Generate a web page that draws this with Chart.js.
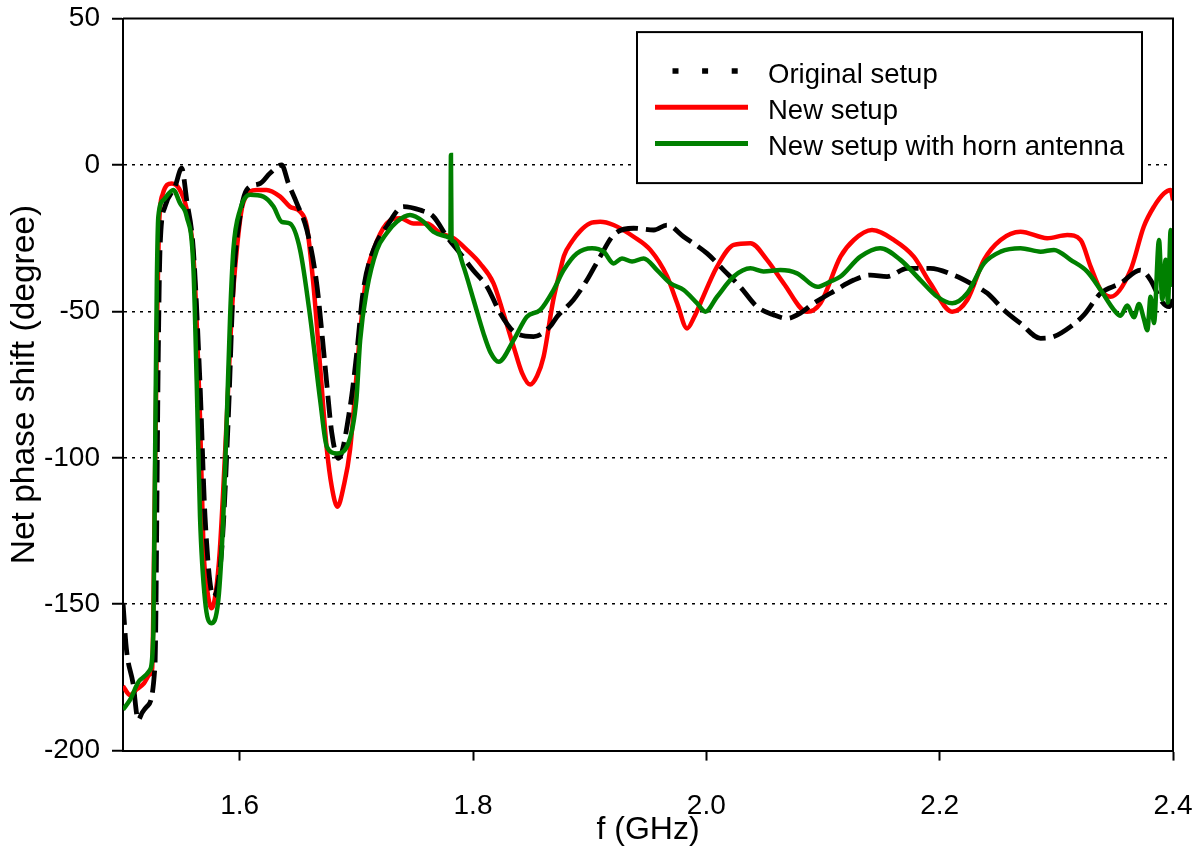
<!DOCTYPE html>
<html>
<head>
<meta charset="utf-8">
<title>Net phase shift</title>
<script src="https://cdn.jsdelivr.net/npm/chart.js@4.4.1/dist/chart.umd.min.js"></script>
<style>
  html, body { margin: 0; padding: 0; background: #fff; }
</style>
</head>
<body>
<canvas id="myChart" width="1199" height="850"></canvas>
<script>
// frequency (GHz) / net phase shift (degree)
const origF = [1.500, 1.503, 1.5086, 1.513, 1.5165, 1.5203, 1.5274, 1.5303, 1.5317, 1.536, 1.5446, 1.5503, 1.5546, 1.5603, 1.566, 1.5703, 1.5775, 1.5846, 1.5903, 1.5946, 1.6003, 1.606, 1.6175, 1.626, 1.636, 1.6418, 1.649, 1.6576, 1.666, 1.6733, 1.679, 1.6847, 1.6947, 1.700, 1.706, 1.7147, 1.726, 1.7404, 1.7547, 1.766, 1.7776, 1.789, 1.800, 1.812, 1.8233, 1.835, 1.852, 1.866, 1.872, 1.886, 1.8977, 1.909, 1.9205, 1.9377, 1.955, 1.9663, 1.9806, 2.0006, 2.0149, 2.029, 2.0435, 2.0578, 2.0692, 2.0806, 2.092, 2.1064, 2.1264, 2.1407, 2.155, 2.1722, 2.192, 2.212, 2.2265, 2.2408, 2.255, 2.2693, 2.2865, 2.298, 2.3122, 2.3237, 2.338, 2.355, 2.372, 2.3808, 2.3894, 2.3966, 2.400];
const origPhase = [-149.6, -165.6, -177, -189.5, -187, -185, -171, -63, -29, -14.2, -7.4, -1.1, -12, -29, -74.6, -120, -147.4, -131.5, -86, -40.4, -17.6, -8.5, -6.3, -2.8, 0, -6.3, -13.1, -22.2, -40.4, -68.9, -91.6, -100.2, -82.5, -65.5, -42.7, -29, -21, -14.2, -15.4, -17.6, -24.5, -30.2, -35.9, -41.6, -50.6, -56.9, -58.6, -55.2, -51.8, -46.1, -39.3, -31.3, -23.9, -21.6, -22.2, -20.5, -24.5, -30.2, -35.9, -41.6, -48.4, -51.2, -52.4, -50.6, -47.2, -43.8, -39.3, -37.6, -38.1, -35.3, -35.3, -37.6, -40.4, -43.8, -49.5, -54.1, -59.2, -58.6, -55.2, -51.2, -43.8, -40.4, -35.9, -39.3, -46.1, -48.4, -46];

const newF = [1.500, 1.506, 1.512, 1.518, 1.523, 1.525, 1.527, 1.529, 1.531, 1.534, 1.5418, 1.548, 1.5546, 1.560, 1.563, 1.566, 1.569, 1.5725, 1.576, 1.5795, 1.583, 1.589, 1.593, 1.5975, 1.603, 1.6147, 1.623, 1.6347, 1.643, 1.652, 1.6576, 1.663, 1.669, 1.6747, 1.679, 1.6838, 1.689, 1.6947, 1.7033, 1.709, 1.7147, 1.726, 1.7376, 1.749, 1.7605, 1.772, 1.7833, 1.7948, 1.806, 1.8176, 1.826, 1.8348, 1.842, 1.849, 1.855, 1.8605, 1.8688, 1.8748, 1.878, 1.885, 1.892, 1.900, 1.909, 1.9205, 1.9377, 1.952, 1.9663, 1.975, 1.9835, 1.9895, 1.9949, 2.0092, 2.0235, 2.0378, 2.052, 2.0663, 2.0864, 2.0978, 2.115, 2.1264, 2.142, 2.1607, 2.1778, 2.192, 2.2107, 2.2236, 2.238, 2.2522, 2.2693, 2.2922, 2.3094, 2.3208, 2.3294, 2.338, 2.3465, 2.3636, 2.375, 2.3837, 2.3923, 2.398, 2.400];
const newPhase = [-178, -181, -179, -177, -174, -172, -120, -60, -20, -10, -6.3, -8, -15, -29, -52, -86, -131, -146, -151.4, -146, -131.5, -86, -52, -29, -13, -8.5, -8.5, -10.8, -14.2, -16, -21, -40, -69, -97, -110, -116.7, -110, -97, -57, -37, -29, -20, -18.2, -20, -20, -23.3, -25, -29, -33.6, -40.4, -50.6, -62, -71, -75, -72, -65.5, -46.1, -36, -31, -26, -22.5, -20, -19.4, -20.5, -24.5, -29, -38, -47.2, -55.8, -52, -47.2, -34.7, -27.3, -26.7, -32.4, -40.4, -50.1, -47.2, -31.3, -25.6, -22.2, -25.6, -31.3, -40.4, -50.1, -46.1, -32.4, -25.6, -22.8, -25, -23.9, -25.6, -34.7, -42.7, -45, -35.9, -21, -14.2, -9.7, -8.5, -12];

const hornF = [1.500, 1.506, 1.5146, 1.523, 1.526, 1.5275, 1.529, 1.5303, 1.5346, 1.5431, 1.5489, 1.5546, 1.5603, 1.5632, 1.566, 1.5703, 1.5755, 1.5817, 1.586, 1.589, 1.5918, 1.5946, 1.6003, 1.6089, 1.6203, 1.629, 1.636, 1.643, 1.6518, 1.6604, 1.669, 1.6747, 1.6833, 1.6932, 1.700, 1.7033, 1.709, 1.7176, 1.726, 1.7347, 1.746, 1.7576, 1.766, 1.7776, 1.7806, 1.7811, 1.7816, 1.7833, 1.7919, 1.8005, 1.809, 1.815, 1.822, 1.8348, 1.8462, 1.8577, 1.869, 1.8777, 1.889, 1.902, 1.912, 1.9205, 1.9277, 1.9363, 1.9463, 1.9577, 1.9692, 1.9806, 1.992, 1.9992, 2.0092, 2.0235, 2.0378, 2.049, 2.0635, 2.0778, 2.095, 2.1064, 2.115, 2.132, 2.149, 2.1664, 2.1835, 2.198, 2.2107, 2.2236, 2.238, 2.2522, 2.2693, 2.2865, 2.298, 2.3122, 2.3265, 2.338, 2.3494, 2.355, 2.3608, 2.3665, 2.3708, 2.375, 2.378, 2.3808, 2.3837, 2.388, 2.3908, 2.3937, 2.3957, 2.398, 2.400];
const hornPhase = [-186, -182.7, -175.9, -172.5, -160, -100, -40, -17.6, -12, -8.5, -13.1, -17.6, -34.7, -74.6, -120, -148.6, -156.5, -148.6, -120, -86, -51.8, -29, -15.4, -10.2, -10.8, -14.2, -19.4, -20, -29, -51.8, -80.3, -96.2, -98.5, -95, -80.3, -59.8, -42.7, -29, -23.3, -19.4, -17.1, -19.4, -22.8, -24.5, -25, 3.4, -25.5, -26, -34.7, -46.1, -57.5, -64, -67.2, -59.8, -51.8, -49.5, -42.7, -35.9, -30.2, -28.4, -29.6, -33.6, -31.9, -33, -31.9, -35.9, -40.4, -42.7, -47.2, -50.1, -45, -38.1, -35.3, -36.4, -35.9, -37, -41.6, -39.8, -38.1, -31.3, -28.4, -32.4, -39.3, -45, -47.2, -43.8, -33.6, -29.6, -28.4, -29.6, -29, -32.4, -36.4, -42.7, -49.5, -51.5, -48, -52, -47.5, -52.5, -56.4, -45, -54, -25.6, -46, -32.4, -47, -22.2, -41.6];

const seriesNames = ["Original setup", "New setup", "New setup with horn antenna"];
const xTickValues = [1.6, 1.8, 2.0, 2.2, 2.4];
const yTickValues = [50, 0, -50, -100, -150, -200];
const yGridValues = [0, -50, -100, -150];

const FONT = "'Liberation Sans', Arial, sans-serif";

function toPoints(xs, ys) {
  return xs.map((x, i) => ({ x: x, y: ys[i] }));
}

// frame (top/right) + legend box inside the plot
const frameAndLegend = {
  id: "frameAndLegend",
  afterDatasetsDraw(chart) {
    const { ctx, chartArea } = chart;
    ctx.save();
    ctx.strokeStyle = "#000";
    ctx.lineWidth = 2;
    ctx.beginPath();
    ctx.moveTo(chartArea.left, chartArea.top);
    ctx.lineTo(chartArea.right, chartArea.top);
    ctx.lineTo(chartArea.right, chartArea.bottom);
    ctx.stroke();

    const w = 505, h = 151;
    const x0 = chartArea.right - 31 - w;
    const y0 = chartArea.top + 13.5;
    ctx.fillStyle = "#fff";
    ctx.fillRect(x0, y0, w, h);
    ctx.strokeRect(x0, y0, w, h);

    ctx.font = "27.5px " + FONT;
    ctx.textBaseline = "alphabetic";
    chart.data.datasets.forEach((ds, i) => {
      const base = y0 + 50.7 + i * 36.2;
      const ly = base - 11.7;
      ctx.beginPath();
      ctx.strokeStyle = ds.borderColor;
      if (i === 0) {
        ctx.lineWidth = 5.5;
        ctx.setLineDash([6, 23.6]);
        ctx.moveTo(x0 + 35.5, ly);
        ctx.lineTo(x0 + 102, ly);
      } else {
        ctx.lineWidth = 5;
        ctx.setLineDash([]);
        ctx.moveTo(x0 + 18, ly);
        ctx.lineTo(x0 + 111, ly);
      }
      ctx.stroke();
      ctx.setLineDash([]);
      ctx.fillStyle = "#000";
      ctx.fillText(ds.label, x0 + 131, base);
    });
    ctx.restore();
  },
};

const ctx = document.getElementById("myChart").getContext("2d");
const myChart = new Chart(ctx, {
  type: "line",
  data: {
    datasets: [
      {
        label: seriesNames[0],
        data: toPoints(origF, origPhase),
        borderColor: "#000000",
        borderWidth: 4.8,
        borderDash: [22, 8],
        order: 1,
      },
      {
        label: seriesNames[1],
        data: toPoints(newF, newPhase),
        borderColor: "#ff0000",
        borderWidth: 4.5,
        order: 2,
      },
      {
        label: seriesNames[2],
        data: toPoints(hornF, hornPhase),
        borderColor: "#008000",
        borderWidth: 4.5,
        order: 0,
      },
    ],
  },
  options: {
    responsive: false,
    animation: false,
    devicePixelRatio: 1,
    elements: {
      point: { radius: 0 },
      line: { cubicInterpolationMode: "monotone", fill: false },
    },
    layout: { autoPadding: false, padding: { top: 18.6, right: 26, bottom: 0, left: 0 } },
    plugins: {
      legend: { display: false },
      tooltip: { enabled: false },
    },
    scales: {
      x: {
        type: "linear",
        min: 1.5,
        max: 2.4,
        afterBuildTicks: (scale) => {
          scale.ticks = xTickValues.map((v) => ({ value: v }));
        },
        afterFit: (scale) => {
          scale.height = 99.4;
          scale.paddingLeft = 0;
          scale.paddingRight = 0;
        },
        ticks: {
          color: "#000",
          font: { family: FONT, size: 28 },
          padding: 29,
          maxRotation: 0,
          callback: (v) => Number(v).toFixed(1),
        },
        grid: {
          drawOnChartArea: false,
          drawTicks: true,
          tickLength: 10,
          tickWidth: 2,
          tickColor: "#000",
        },
        border: { display: true, color: "#000", width: 2 },
        title: {
          display: true,
          text: "f (GHz)",
          color: "#000",
          font: { family: FONT, size: 32 },
          padding: 1,
        },
      },
      y: {
        type: "linear",
        min: -200,
        max: 50,
        afterBuildTicks: (scale) => {
          scale.ticks = yTickValues.map((v) => ({ value: v }));
        },
        afterFit: (scale) => {
          scale.width = 123;
          scale.paddingTop = 0;
          scale.paddingBottom = 0;
        },
        ticks: {
          color: "#000",
          font: { family: FONT, size: 28 },
          padding: 12,
        },
        grid: {
          color: (c) => (c.tick && yGridValues.includes(c.tick.value) ? "#000" : "rgba(0,0,0,0)"),
          lineWidth: 1.5,
          drawTicks: true,
          tickLength: 11,
          tickWidth: 2,
          tickColor: "#000",
        },
        border: { display: true, color: "#000", width: 2, dash: [3, 5] },
        title: {
          display: true,
          text: "Net phase shift (degree)",
          color: "#000",
          font: { family: FONT, size: 33.5 },
          padding: 5,
        },
      },
    },
  },
  plugins: [frameAndLegend],
});
</script>
</body>
</html>
